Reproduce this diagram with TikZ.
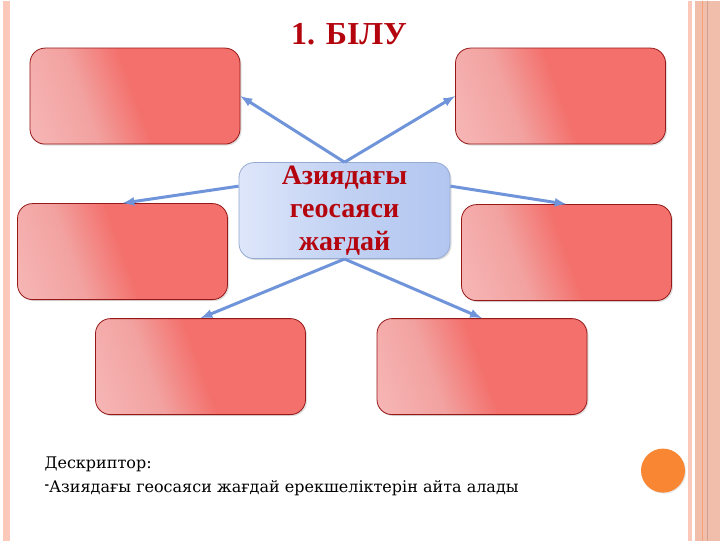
\documentclass[tikz,border=0pt]{standalone}
\usepackage{fontspec}
\setmainfont{Liberation Serif}
\newfontfamily\descfont{DejaVu Serif}
\usetikzlibrary{shadows}
\definecolor{rboxL}{RGB}{250,204,204}
\definecolor{rboxM}{RGB}{242,162,160}
\definecolor{rboxR}{RGB}{243,112,108}
\definecolor{rboxline}{RGB}{150,25,25}
\definecolor{cboxL}{RGB}{222,230,250}
\definecolor{cboxR}{RGB}{178,198,240}
\definecolor{cboxline}{RGB}{150,170,210}
\definecolor{arrowblue}{RGB}{112,148,218}
\definecolor{titlered}{RGB}{180,5,15}
\definecolor{stripeL}{RGB}{252,200,185}
\definecolor{stripeR}{RGB}{242,190,172}
\definecolor{stripeO}{RGB}{246,160,120}
\definecolor{dotorange}{RGB}{248,134,50}
\pgfdeclarehorizontalshading{redshade}{100bp}{color(0bp)=(rboxL); color(36bp)=(rboxM); color(50bp)=(rboxR); color(100bp)=(rboxR)}
\tikzset{
  redbox/.style={draw=rboxline, line width=0.8bp, rounded corners=15bp, shading=redshade,
    shading angle=20, minimum width=210bp, minimum height=96bp, inner sep=0pt,
    drop shadow={opacity=0.25, shadow xshift=1.5bp, shadow yshift=-1.5bp}},
  centerbox/.style={draw=cboxline, line width=0.8bp, rounded corners=15bp, left color=cboxL,
    right color=cboxR, middle color=cboxR!80!white, minimum width=211bp, minimum height=96bp,
    inner sep=0pt, align=center, text=titlered, font=\fontsize{28bp}{33bp}\selectfont\bfseries,
    drop shadow={opacity=0.25, shadow xshift=1.5bp, shadow yshift=-1.5bp}},
  link/.style={arrowblue, line width=3bp, ->},
  desctext/.style={anchor=base west, font=\descfont\fontsize{16bp}{18bp}\selectfont}
}
\begin{document}
\begin{tikzpicture}[>=latex, x=1bp, y=-1bp]
\fill[white](0,0)rectangle(720,540);
% side stripes
\fill[stripeL](3,0)rectangle(10,540);
\fill[stripeL](688,0)rectangle(692,540);
\fill[stripeR](695,0)rectangle(720,540);
\draw[stripeO, line width=1.2bp](702.5,0)--(702.5,540);
\draw[stripeR!85!black, line width=0.6bp](707,0)--(707,540);
\node[titlered, font=\fontsize{32bp}{34bp}\selectfont\bfseries] (title) at (349,34) {1. БІЛУ};
\node[redbox] (tl) at (135,95.5) {};
\node[redbox] (tr) at (560.5,95.5) {};
\node[redbox] (ml) at (122.5,251) {};
\node[redbox] (mr) at (566.5,252) {};
\node[redbox] (bl) at (200.5,366) {};
\node[redbox] (br) at (482,366) {};
\node[centerbox] (ctr) at (344.5,210) {Азиядағы\\геосаяси\\жағдай};
\foreach \a/\b in {north/tl.east, north/tr.west, 167/ml.north, 13/mr.north, south/bl.north, south/br.north}
{
    \draw[link](ctr.\a)--(\b);
}
\node[desctext] (desc) at (41,468) {Дескриптор:};
\node[desctext] (item) at (41,492) {\raisebox{0.5ex}{\fontsize{11bp}{11bp}\selectfont\bfseries -}Азиядағы геосаяси жағдай ерекшеліктерін айта алады};
\fill[dotorange, drop shadow={opacity=0.2, shadow xshift=1bp, shadow yshift=-1bp}] (663,470) circle (22);
\end{tikzpicture}
\end{document}
